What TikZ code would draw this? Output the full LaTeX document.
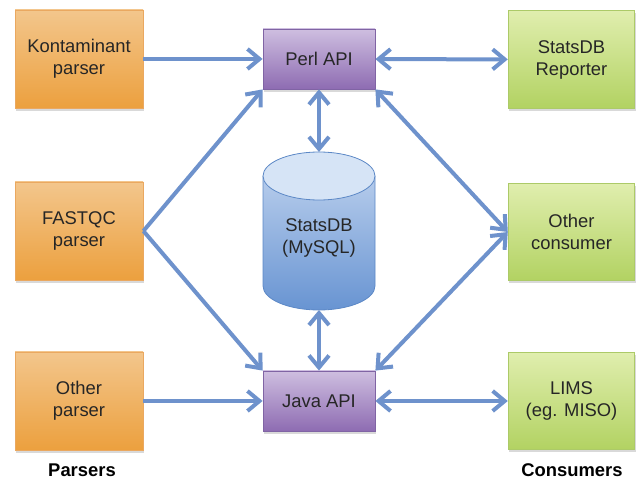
\documentclass[tikz,border=0pt]{standalone}
\usepackage{fontspec}
\setmainfont{Liberation Sans}
\usetikzlibrary{arrows.meta,shadows}

\definecolor{orangetop}{RGB}{243,198,140}
\definecolor{orangebot}{RGB}{236,160,62}
\definecolor{orangeline}{RGB}{234,168,96}
\definecolor{purpletop}{RGB}{206,190,224}
\definecolor{purplebot}{RGB}{142,108,178}
\definecolor{purpleline}{RGB}{128,100,164}
\definecolor{greentop}{RGB}{224,238,174}
\definecolor{greenbot}{RGB}{178,210,98}
\definecolor{greenline}{RGB}{172,202,104}
\definecolor{dbtop}{RGB}{196,214,240}
\definecolor{dbbot}{RGB}{104,148,210}
\definecolor{dbline}{RGB}{92,136,198}
\definecolor{dbcap}{RGB}{214,228,246}
\definecolor{linkblue}{RGB}{110,146,204}
\definecolor{txt}{RGB}{38,38,38}

\begin{document}
\begin{tikzpicture}[x=0.75pt,y=0.75pt,yscale=-1,xscale=1,
  box/.style={draw, line width=0.6pt, align=center, text=txt, font={\fontsize{13.8}{16.5}\selectfont},
    drop shadow={shadow xshift=0.8pt, shadow yshift=-2pt, opacity=0.3}},
  parser/.style={box, draw=orangeline, top color=orangetop, bottom color=orangebot, minimum width=96pt, minimum height=73.5pt},
  api/.style={box, draw=purpleline, top color=purpletop, bottom color=purplebot, minimum width=84pt, minimum height=45pt},
  consumer/.style={box, draw=greenline, top color=greentop, bottom color=greenbot, minimum width=95pt, minimum height=73pt},
  link/.style={draw=linkblue, line width=3pt, -{Straight Barb[length=9pt,width=15pt]}},
  both/.style={link, {Straight Barb[length=9pt,width=15pt]}-{Straight Barb[length=9pt,width=15pt]}},
  group/.style={font={\bfseries\fontsize{13.8}{16}\selectfont}, text=black}]
\useasboundingbox (0,0) rectangle (637,481);

%Parsers
\node[parser] (kont) at (79,59) {Kontaminant\\parser};
\node[parser] (fastqc) at (79,231) {FASTQC\\parser};
\node[parser] (otherp) at (79,401) {Other\\parser};

%APIs
\node[api] (perl) at (319,59) {Perl API};
\node[api] (java) at (319,401) {Java API};

%Consumers
\node[consumer] (reporter) at (571.5,59.5) {StatsDB\\Reporter};
\node[consumer] (otherc) at (571.5,232) {Other\\consumer};
\node[consumer] (lims) at (571.5,401) {LIMS\\(eg. MISO)};

%Shape: Can
\path[top color=dbtop, bottom color=dbbot] (263,176) -- (263,286) arc[start angle=180,end angle=0,x radius=56,y radius=24] -- (375,176) arc[start angle=0,end angle=-180,x radius=56,y radius=24] -- cycle;
\draw[dbline, line width=0.6pt] (263,176) -- (263,286) arc[start angle=180,end angle=0,x radius=56,y radius=24] -- (375,176);
\draw[dbline, line width=0.6pt, fill=dbcap] (319,176) ellipse [x radius=56, y radius=24];
\node[align=center, text=txt, font={\fontsize{13.8}{16.5}\selectfont}] (db) at (319,238) {StatsDB\\(MySQL)};
\coordinate (dbtop) at (319,152);
\coordinate (dbbot) at (319,310);

%Links
\draw[link] (kont) -- (perl);
\draw[link] (fastqc.east) -- (perl.south west);
\draw[link] (fastqc.east) -- (java.north west);
\draw[link] (otherp) -- (java);
\draw[both] (perl) -- (reporter);
\draw[both] (perl.south east) -- (otherc.west);
\draw[both] (java.north east) -- (otherc.west);
\draw[both] (java) -- (lims);
\draw[both] (perl.south) -- (dbtop);
\draw[both] (dbbot) -- (java.north);

%Labels
\node[group] (parsers) at (82,470) {Parsers};
\node[group] (consumers) at (572,470) {Consumers};

\end{tikzpicture}
\end{document}
